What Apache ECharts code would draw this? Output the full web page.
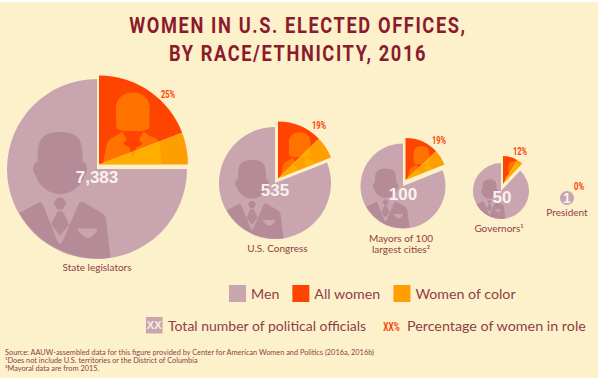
<!DOCTYPE html>
<html>
<head>
<meta charset="utf-8">
<style>
html,body{margin:0;padding:0;background:#fff}
#chart{width:601px;height:379px}
/* title is spaced out */
#chart text[style*="22.5px"]{letter-spacing:2px}
</style>
<script src="https://cdn.jsdelivr.net/npm/echarts@6/dist/echarts.min.js"></script>
</head>
<body>
<div id="chart"></div>
<script>
// values
const offices = ['State legislators', 'U.S. Congress', 'Mayors of 100\nlargest cities²', 'Governors¹', 'President'];
const totals = ['7,383', '535', '100', '50', '1'];
const womenPct = [25, 19, 19, 12, 0];
const womenOfColorPct = [5.8, 6.3, 6, 3.5, 0];

// layout, px
const menCenters = [[97, 169], [275, 183], [403, 186], [501, 191], [567, 198]];
const menRadius = [90, 56, 42.5, 28, 7];
const wedgeCenters = [[99, 164.5], [278, 178.5], [405.5, 180], [503, 184], [567, 198]];
const wedgeRadius = [89, 57, 42, 28, 0];
const totalPos = [[97, 177], [275, 190.5], [403, 194], [502, 197], [567, 198]];
const totalSize = [17, 17, 17, 17, 14];
const pctPos = [[168, 95], [319, 125.5], [439, 141], [520, 151.5], [579, 187]];
const namePos = [[97, 267], [277.5, 248], [401, 243], [499, 228], [567, 212]];

const BG = '#FDF1CC', MEN = '#C9A5AF', MEN_DARK = '#B48B97', RED = '#FF4300', ORANGE = '#FF9E00';
const TEXT = '#8F3F45', TITLE = '#8B1A2B', FONT = 'Lato, "Noto Sans", sans-serif', TITLE_FONT = 'Roboto, sans-serif';

// silhouettes in a circle of radius 100 around the origin
const manPath = 'M-66,-15C-66,-35 -58,-41 -41,-41C-24,-41 -16,-35 -16,-15L-16,-8C-11,-8 -9,4 -14,7C-17,20 -30,28 -41,28C-52,28 -65,20 -68,7C-73,4 -71,-8 -66,-8Z' +
    'M-86,49L-66,38Q-62,36 -60,40L-44,80Q-41,86 -38,80L-21,40Q-19,35 -15,37L4,48Q9,50 10,56L15,98.5A100,100 0 0 1 -86,49Z' +
    'M-48,38L-44,32L-38,32L-34,38L-38,45L-44,45ZM-44,47L-38,47L-31,62L-41,74L-51,62Z';
const pocketPath = 'M-21,66L0,66L0,69Q-6,76 -10,77Q-15,76 -21,69Z';
const womanPath = 'M38,-81C51,-81 57,-73 57,-63C57,-54 56,-47 57,-41C51,-37 45,-37 38,-38C32,-37 25,-37 19,-41C20,-47 19,-54 19,-63C19,-73 26,-81 38,-81Z' +
    'M4,1L9,-24Q11,-29 19,-32L26,-37L31,-28L27,-23L34,-19L38,-7L42,-19L49,-23L45,-28L50,-37L57,-32Q67,-29 68,-23L71,1Z';

const legendNames = ['Men', 'All women', 'Women of color'];
const gap = { name: 'gap', itemStyle: { color: 'transparent' }, emphasis: { disabled: true } };
const series = [];

offices.forEach((name, i) => {
    const w = womenPct[i], c = womenOfColorPct[i];
    series.push({
        type: 'pie', center: menCenters[i], radius: [0, menRadius[i]], startAngle: 90, clockwise: true,
        silent: true, label: { show: false }, labelLine: { show: false }, z: 2,
        data: [
            { ...gap, value: w },
            { name: 'Men', value: 100 - w, itemStyle: { color: MEN } }
        ]
    });
    if (w > 0) {
        // cream outline behind the pulled out wedge
        series.push({
            type: 'pie', center: wedgeCenters[i], radius: [0, wedgeRadius[i]], startAngle: 90, clockwise: true,
            silent: true, label: { show: false }, labelLine: { show: false }, z: 3,
            data: [
                { name: 'outline', value: w, itemStyle: { color: BG, borderColor: BG, borderWidth: 4 } },
                { ...gap, value: 100 - w }
            ]
        });
        series.push({
            type: 'pie', center: wedgeCenters[i], radius: [0, wedgeRadius[i]], startAngle: 90, clockwise: true,
            silent: true, label: { show: false }, labelLine: { show: false }, z: 4,
            data: [
                { name: 'All women', value: w - c, itemStyle: { color: RED } },
                { name: 'Women of color', value: c, itemStyle: { color: ORANGE } },
                { ...gap, value: 100 - w }
            ]
        });
    }
});

// silhouettes on top of the pies
series.push({
    type: 'custom', coordinateSystem: 'none', silent: true, z: 5,
    data: offices.map((d, i) => i),
    renderItem(params) {
        const i = params.dataIndex;
        const children = [];
        if (i < 4) {
            const s = menRadius[i] / 100;
            children.push({
                type: 'group', x: menCenters[i][0], y: menCenters[i][1], scaleX: s, scaleY: s,
                children: [
                    { type: 'path', shape: { pathData: manPath }, style: { fill: MEN_DARK } },
                    { type: 'path', shape: { pathData: pocketPath }, style: { fill: MEN } }
                ]
            });
            const k = wedgeRadius[i] / 100;
            children.push({
                type: 'group', x: wedgeCenters[i][0], y: wedgeCenters[i][1], scaleX: k, scaleY: k,
                clipPath: {
                    type: 'sector',
                    shape: { cx: 0, cy: 0, r0: 0, r: 100, startAngle: -Math.PI / 2, endAngle: -Math.PI / 2 + womenPct[i] * Math.PI / 50 }
                },
                children: [
                    { type: 'path', shape: { pathData: womanPath }, style: { fill: 'rgba(255,200,0,0.36)' } }
                ]
            });
        }
        return { type: 'group', children };
    }
});

const labels = [];
offices.forEach((name, i) => {
    labels.push({
        type: 'text', x: namePos[i][0], y: namePos[i][1], z: 10,
        style: { text: name, fill: TEXT, font: '10px ' + FONT, align: 'center', verticalAlign: 'middle', lineHeight: 11 }
    });
    labels.push({
        type: 'text', x: totalPos[i][0], y: totalPos[i][1], z: 10,
        style: { text: totals[i], fill: '#FBF1EE', font: 'bold ' + totalSize[i] + 'px "Liberation Sans", sans-serif', align: 'center', verticalAlign: 'middle' }
    });
    labels.push({
        type: 'text', x: pctPos[i][0], y: pctPos[i][1], z: 10, scaleX: 0.72,
        style: { text: womenPct[i] + '%', fill: RED, font: 'bold 10.5px ' + TITLE_FONT, align: 'center', verticalAlign: 'middle' }
    });
});

const chart = echarts.init(document.getElementById('chart'), null, { renderer: 'svg' });
chart.setOption({
    animation: false,
    backgroundColor: '#fff',
    legend: {
        data: legendNames, left: 229, top: 285, padding: 0, itemWidth: 17, itemHeight: 17, itemGap: 13, icon: 'rect',
        selectedMode: false, inactiveColor: TEXT,
        textStyle: { color: TEXT, fontFamily: FONT, fontSize: 14.2 }
    },
    series,
    graphic: [
        { type: 'rect', z: 0, silent: true, shape: { x: 0, y: 2, width: 598, height: 376 }, style: { fill: BG } }
    ].concat(labels, [
        { type: 'text', x: 298, y: 25, z: 10, scaleX: 0.81, style: { text: 'WOMEN IN U.S. ELECTED OFFICES,', fill: TITLE, font: 'bold 22.5px ' + TITLE_FONT, align: 'center', verticalAlign: 'middle' } },
        { type: 'text', x: 298, y: 53, z: 10, scaleX: 0.81, style: { text: 'BY RACE/ETHNICITY, 2016', fill: TITLE, font: 'bold 22.5px ' + TITLE_FONT, align: 'center', verticalAlign: 'middle' } },
        { type: 'rect', shape: { x: 146, y: 317, width: 16.5, height: 16.5 }, z: 10, style: { fill: MEN } },
        { type: 'text', x: 154.2, y: 325.2, z: 11, style: { text: 'XX', fill: '#F6ECE8', font: 'bold 11px "Liberation Sans", sans-serif', align: 'center', verticalAlign: 'middle' } },
        { type: 'text', x: 168, y: 325, z: 10, style: { text: 'Total number of political officials', fill: TEXT, font: '14px ' + FONT, verticalAlign: 'middle' } },
        { type: 'text', x: 391.5, y: 327, z: 10, scaleX: 0.65, style: { text: 'XX%', fill: RED, font: 'bold 12.5px ' + TITLE_FONT, align: 'center', verticalAlign: 'middle' } },
        { type: 'text', x: 407, y: 325, z: 10, style: { text: 'Percentage of women in role', fill: TEXT, font: '14.3px ' + FONT, verticalAlign: 'middle' } },
        { type: 'text', x: 5, y: 352, z: 10, style: { text: 'Source: AAUW-assembled data for this figure provided by Center for American Women and Politics (2016a, 2016b)', fill: TEXT, font: '7.35px ' + FONT, verticalAlign: 'middle' } },
        { type: 'text', x: 5, y: 360, z: 10, style: { text: '¹Does not include U.S. territories or the District of Columbia', fill: TEXT, font: '7.35px ' + FONT, verticalAlign: 'middle' } },
        { type: 'text', x: 5, y: 368, z: 10, style: { text: '²Mayoral data are from 2015.', fill: TEXT, font: '7.35px ' + FONT, verticalAlign: 'middle' } }
    ])
});
</script>
</body>
</html>
